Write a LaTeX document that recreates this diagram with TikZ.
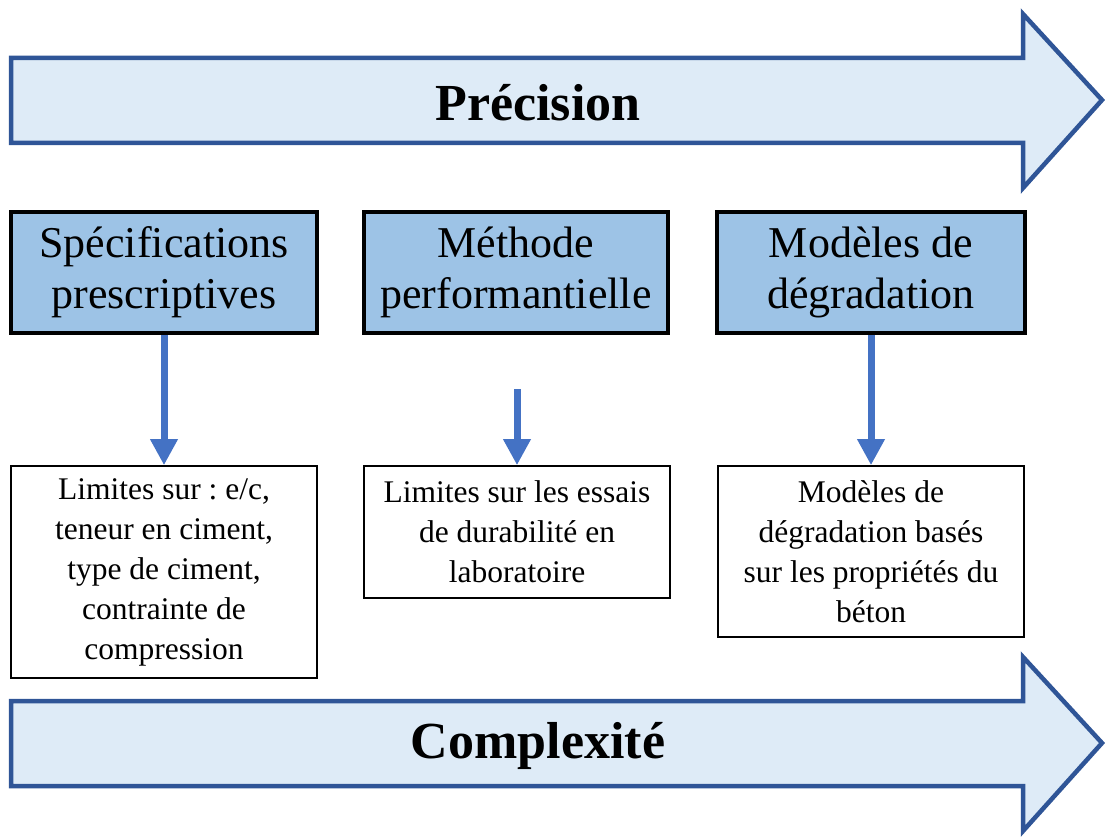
\documentclass[tikz,border=0pt]{standalone}
\usepackage{fontspec}
\setmainfont{Liberation Serif}
\usetikzlibrary{arrows.meta}
\frenchspacing
\definecolor{arrowfill}{HTML}{DEEBF7}
\definecolor{arrowline}{HTML}{2F5597}
\definecolor{headfill}{HTML}{9DC3E6}
\definecolor{connblue}{HTML}{4472C4}
\tikzset{
  bigarrow/.style={fill=arrowfill, draw=arrowline, line width=4.5pt, line join=miter},
  biglabel/.style={font=\fontsize{52}{60}\selectfont\bfseries, inner sep=0pt},
  headbox/.style={draw=black, fill=headfill, line width=4.5pt, align=center,
    inner sep=0pt, font=\fontsize{44}{51}\selectfont},
  infobox/.style={draw=black, fill=white, line width=1.6pt, align=center,
    inner sep=0pt, font=\fontsize{31.5}{40}\selectfont},
  conn/.style={draw=connblue, line width=7pt, -{Triangle[width=26pt,length=26pt]}, shorten >=0pt}
}
\begin{document}
\begin{tikzpicture}[x=1pt,y=-1pt]
\useasboundingbox (0,0) rectangle (1105,837);
% top arrow
\draw[bigarrow] (11,58) -- (1023,58) -- (1023,14) -- (1102,100) -- (1023,188) -- (1023,143) -- (11,143) -- cycle;
\node[biglabel] (prec) at (538,103) {Précision};
% bottom arrow
\draw[bigarrow] (11,701) -- (1023,701) -- (1023,657) -- (1102,743) -- (1023,831) -- (1023,786) -- (11,786) -- cycle;
\node[biglabel] (comp) at (538,746) {Complexité};
% header boxes
\node[headbox, minimum width=306pt, minimum height=121pt] (h1) at (164,272.5) {Spécifications\\prescriptives};
\node[headbox, minimum width=304pt, minimum height=121pt] (h2) at (516,272.5) {Méthode\\performantielle};
\node[headbox, minimum width=308pt, minimum height=121pt] (h3) at (871,272.5) {Modèles de\\dégradation};
% info boxes
\node[infobox, minimum width=306pt, minimum height=212pt] (b1) at (164,572) {Limites sur : e/c,\\teneur en ciment,\\type de ciment,\\contrainte de\\compression};
\node[infobox, minimum width=306pt, minimum height=132pt] (b2) at (517,532) {Limites sur les essais\\de durabilité en\\laboratoire};
\node[infobox, minimum width=306pt, minimum height=171pt] (b3) at (871,551.5) {Modèles de\\dégradation basés\\sur les propriétés du\\béton};
% connectors
\coordinate (m2) at (517,389);
\draw[conn] (h1.south) -- (b1.north);
\draw[conn] (m2) -- (b2.north);
\draw[conn] (h3.south) -- (b3.north);
\end{tikzpicture}
\end{document}
